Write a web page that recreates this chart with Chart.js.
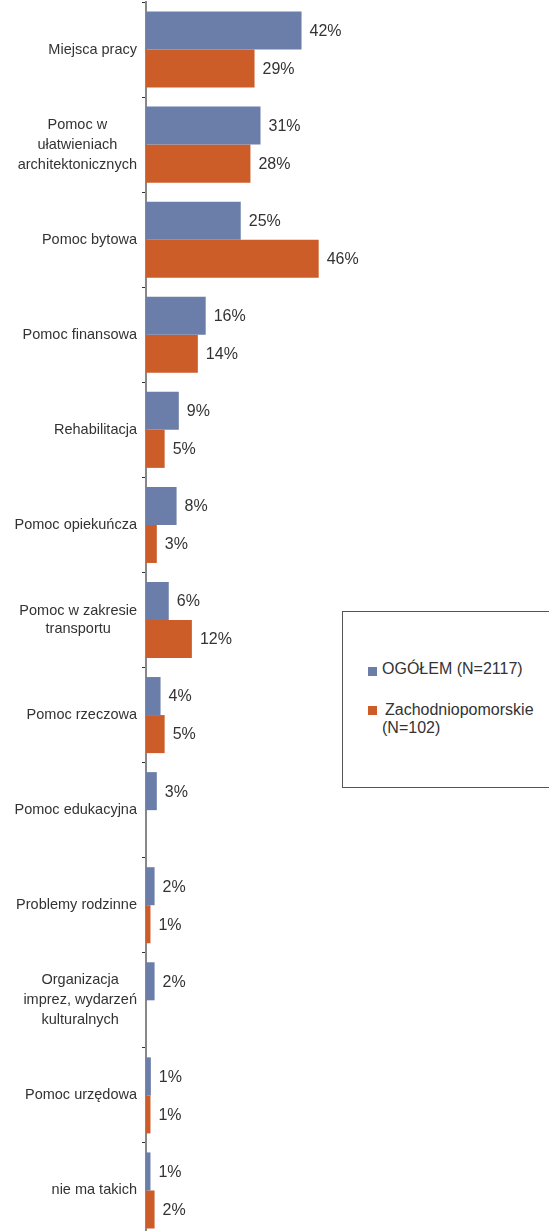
<!DOCTYPE html>
<html>
<head>
<meta charset="utf-8">
<script src="https://cdn.jsdelivr.net/npm/chart.js@4"></script>
<style>
  html, body { margin: 0; padding: 0; background: #fff; overflow: hidden; }
  #wrap { position: relative; width: 549px; height: 1240px; }
  #legendBox {
    position: absolute; left: 342px; top: 611px; width: 220px; height: 175px;
    border: 1px solid #555; background: #fff;
  }
  .box { position: absolute; width: 9px; height: 9px; }
  .txt {
    position: absolute; white-space: nowrap; line-height: 18px;
    font-family: "Liberation Sans", Arial, sans-serif; font-size: 16px; color: #333;
  }
</style>
</head>
<body>
<div id="wrap">
  <canvas id="myChart" width="549" height="1240"></canvas>
  <div id="legendBox"></div>
  <span class="box" style="left:368px;top:667px;background:#6b7ea9"></span>
  <span class="txt" style="left:382px;top:660px">OGÓŁEM (N=2117)</span>
  <span class="box" style="left:368px;top:706px;background:#cc5d29"></span>
  <span class="txt" style="left:385px;top:701px">Zachodniopomorskie</span>
  <span class="txt" style="left:382px;top:719px">(N=102)</span>
</div>
<script>
const categories = [
  "Miejsca pracy",
  ["Pomoc w", "ułatwieniach", "architektonicznych"],
  "Pomoc bytowa",
  "Pomoc finansowa",
  "Rehabilitacja",
  "Pomoc opiekuńcza",
  ["Pomoc w zakresie", "transportu"],
  "Pomoc rzeczowa",
  "Pomoc edukacyjna",
  "Problemy rodzinne",
  ["Organizacja", "imprez, wydarzeń", "kulturalnych"],
  "Pomoc urzędowa",
  "nie ma takich"
];
const seriesNames = ["OGÓŁEM (N=2117)", "Zachodniopomorskie (N=102)"];
const ogolem = [41.7, 30.7, 25.4, 16.0, 8.8, 8.2, 6.1, 3.9, 2.9, 2.3, 2.3, 1.3, 1.2];
const zachodniopomorskie = [29.1, 28.0, 46.3, 13.9, 5.0, 2.9, 12.3, 5.0, null, 1.2, null, 1.2, 2.3];

const labelFont = '14.5px "Liberation Sans", Arial, sans-serif';
const valueFont = '16px "Liberation Sans", Arial, sans-serif';

// category labels: block right-aligned, lines centered inside block
const catLabels = {
  id: "catLabels",
  afterDraw(chart) {
    const ctx = chart.ctx;
    const y = chart.scales.y;
    ctx.save();
    ctx.font = labelFont;
    ctx.fillStyle = "#333";
    ctx.textAlign = "center";
    ctx.textBaseline = "middle";
    categories.forEach((lab, i) => {
      const lines = Array.isArray(lab) ? lab : [lab];
      const maxW = Math.max(...lines.map((l) => ctx.measureText(l).width));
      const cx = 137 - maxW / 2;
      const cy = y.getPixelForValue(i);
      const lh = lines.length == 2 ? 18 : 20;
      lines.forEach((l, j) => {
        ctx.fillText(l, cx, cy + (j - (lines.length - 1) / 2) * lh);
      });
    });
    ctx.restore();
  }
};

// value labels to the right of each bar
const valueLabels = {
  id: "valueLabels",
  afterDatasetsDraw(chart) {
    const ctx = chart.ctx;
    ctx.save();
    ctx.font = valueFont;
    ctx.fillStyle = "#333";
    ctx.textAlign = "left";
    ctx.textBaseline = "middle";
    chart.data.datasets.forEach((ds, di) => {
      chart.getDatasetMeta(di).data.forEach((el, i) => {
        const v = ds.data[i];
        if (v == null) return;
        ctx.fillText(Math.round(v) + "%", el.x + 8, el.y + 1);
      });
    });
    ctx.restore();
  }
};

const ctx = document.getElementById("myChart").getContext("2d");
new Chart(ctx, {
  type: "bar",
  data: {
    labels: categories,
    datasets: [
      {
        label: seriesNames[0],
        data: ogolem,
        backgroundColor: "#6b7ea9",
        categoryPercentage: 0.8,
        barPercentage: 1.0
      },
      {
        label: seriesNames[1],
        data: zachodniopomorskie,
        backgroundColor: "#cc5d29",
        categoryPercentage: 0.8,
        barPercentage: 1.0
      }
    ]
  },
  options: {
    indexAxis: "y",
    responsive: false,
    animation: false,
    layout: { padding: { top: 2, bottom: 2, right: 30, left: 0 } },
    plugins: {
      legend: { display: false },
      tooltip: { enabled: false }
    },
    scales: {
      x: {
        display: false,
        min: 0,
        max: 100
      },
      y: {
        afterFit(scale) { scale.width = 146; },
        ticks: { display: false },
        grid: {
          offset: true,
          drawOnChartArea: false,
          drawTicks: true,
          tickLength: 4,
          color: "#333",
          lineWidth: 1
        },
        border: { display: true, color: "#888", width: 2 }
      }
    }
  },
  plugins: [catLabels, valueLabels]
});
</script>
</body>
</html>
